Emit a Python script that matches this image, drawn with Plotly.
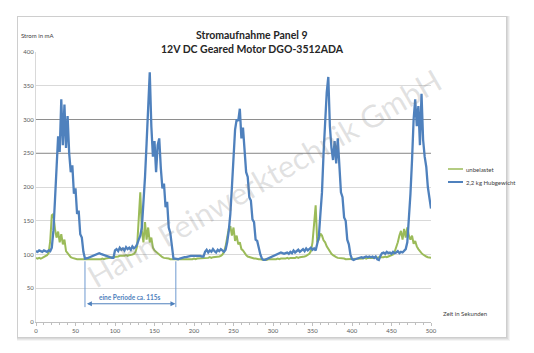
import plotly.graph_objects as go

# Zeit in Sekunden (Abtastung alle 2 s)
zeit = list(range(0, 501, 2))

# Stromaufnahme unbelastet (mA)
unbelastet = [
    95, 94, 95, 94, 95, 96, 97, 99, 102,
    120, 158, 160, 138, 125, 134, 118, 130, 115, 122, 105, 102, 98, 96,
    95, 94, 94, 93, 93, 93, 92, 92, 92, 93, 92, 93, 92, 92, 93, 93, 92, 93, 93, 94, 93, 94, 94, 95, 95, 96, 96,
    96, 97, 97, 98, 98, 97, 98, 99, 98, 99, 99, 100, 101, 104,
    112, 150, 192, 135, 118, 148, 122, 140, 118, 125, 110, 106, 104, 101, 99, 97, 96,
    95, 95, 94, 94, 93, 93, 93, 92, 92, 93, 92, 92, 92, 93, 93, 92, 93, 93, 93, 94,
    93, 94, 94, 94, 95, 95, 94, 95, 95, 96, 95, 96, 96, 97, 96, 97, 98, 100, 104,
    112, 125, 138, 142, 128, 140, 120, 128, 115, 118, 108, 106, 102, 99, 97, 96,
    95, 95, 94, 94, 93, 93, 93, 92, 92, 93, 92, 93, 93, 93, 92, 93, 93, 94, 93, 94,
    94, 93, 94, 95, 94, 95, 95, 94, 95, 96, 95, 96, 96, 97, 97, 98, 99, 101,
    105, 118, 145, 173, 118, 122, 131, 128, 121, 118, 112, 108, 104, 101, 99, 97, 96,
    95, 95, 94, 94, 94, 93, 93, 93, 93, 94, 93, 93, 94, 94, 93, 94, 94, 95, 94, 95,
    95, 94, 95, 95, 96, 95, 96, 96, 95, 96, 97, 96, 97, 98, 98, 100, 104, 110,
    118, 128, 135, 122, 138, 125, 140, 128, 122, 128, 116, 120, 112, 108, 104, 102, 100, 98, 97, 96,
    96, 95,
]

# Stromaufnahme mit 2,2 kg Hubgewicht (mA)
hubgewicht = [
    105, 104, 106, 105, 104, 106, 105, 104, 106, 105,
    110, 135, 180, 238, 275, 252, 330, 262, 322, 258, 305, 250, 222, 232, 190, 198, 160, 165, 130, 125, 104, 94,
    94, 95, 96, 97, 98, 99, 100, 101, 102, 101, 100, 100, 99, 98, 97, 96, 95, 95,
    106, 108, 105, 110, 107, 109, 106, 111, 108, 110, 107, 112, 109, 111,
    115, 122, 128, 140, 175, 215, 265, 320, 370,
    290, 245, 268, 222, 262, 272, 228, 198, 205, 170, 178, 140, 132, 108, 94,
    94, 93, 93, 94, 95, 95, 96, 96, 97, 97, 98, 98, 98, 99, 99, 98, 98, 97, 97,
    104, 107, 103, 106, 104, 108, 105, 103, 107, 105, 108, 106, 104, 107,
    118, 135, 160, 200, 245, 285, 300, 298, 316, 272, 288, 250, 222, 215, 185, 180, 152, 148, 122, 120, 108, 100, 94, 92, 92,
    93, 95, 96, 97, 98, 99, 100, 101, 102, 103, 102, 101, 102, 103, 101, 104, 102, 106, 103, 105,
    107, 104, 106, 108, 105, 109, 106, 108, 110, 107, 109, 106,
    115, 126, 160, 192, 250, 300, 340, 363, 290, 258, 240, 268, 235, 272, 222, 192, 185, 155, 150, 122, 115, 100, 93, 92,
    93, 94, 95, 95, 96, 95, 96, 97, 96, 97, 96, 97, 95, 97, 93, 92, 98, 102, 103, 101,
    104, 102, 103, 101, 104, 102, 103, 105, 102, 104, 103, 105,
    108, 118, 150, 190, 240, 300, 330, 290, 320, 262, 338, 270, 245, 230, 200, 185, 168,
]

namen = ["unbelastet", "2,2 kg Hubgewicht"]
farben = ["#9BBB59", "#4F81BD"]
x_ticks = list(range(0, 501, 50))
y_ticks = list(range(0, 401, 50))
periode_start, periode_ende = 62, 177
periode_text = "eine Periode ca. 115s"

FONT = "Lato, Calibri, 'Open Sans', sans-serif"

fig = go.Figure()
fig.add_trace(go.Scatter(x=zeit, y=unbelastet, mode="lines", name=namen[0],
                         line=dict(color=farben[0], width=2), showlegend=False))
fig.add_trace(go.Scatter(x=zeit, y=hubgewicht, mode="lines", name=namen[1],
                         line=dict(color=farben[1], width=2.3), showlegend=False))

W, H = 534, 353
L, R, T, B = 36, 103, 52, 31
pw, ph = W - L - R, H - T - B


def px(x):
    return (x - L) / pw


def py(y):
    return (H - B - y) / ph


shapes = []
# card shadow + card
for off, op in [(4, 0.04), (3, 0.05), (2, 0.06), (1, 0.05)]:
    shapes.append(dict(type="rect", xref="paper", yref="paper",
                       x0=px(18 - 1), x1=px(506 + off), y0=py(337 + off), y1=py(17 - 1),
                       fillcolor=f"rgba(0,0,0,{op})", line=dict(width=0), layer="below"))
shapes.append(dict(type="rect", xref="paper", yref="paper",
                   x0=px(18), x1=px(506), y0=py(337), y1=py(17),
                   fillcolor="white", line=dict(width=0), layer="below"))
# darker grid lines
for gy in (250, 300):
    shapes.append(dict(type="line", xref="x", yref="y", x0=0, x1=500, y0=gy, y1=gy,
                       line=dict(color="#8E8E8E", width=1), layer="between"))
# period markers
for xv in (periode_start, periode_ende):
    shapes.append(dict(type="line", xref="x", yref="y", x0=xv, x1=xv, y0=22, y1=90,
                       line=dict(color="#6F9AD0", width=1), layer="above"))
# legend lines
for i, yy in enumerate((169, 182)):
    shapes.append(dict(type="line", xref="paper", yref="paper", x0=px(448), x1=px(463),
                       y0=py(yy), y1=py(yy), line=dict(color=farben[i], width=2 if i else 1.5)))

ann = []
ann.append(dict(text="<b>Stromaufnahme Panel 9</b>", xref="paper", yref="paper",
                x=px(252), y=py(27), showarrow=False, font=dict(size=10.5, color="#262626", family=FONT)))
ann.append(dict(text="<b>12V DC Geared Motor DGO-3512ADA</b>", xref="paper", yref="paper",
                x=px(252), y=py(41), showarrow=False, font=dict(size=10.5, color="#262626", family=FONT)))
ann.append(dict(text="Strom in mA", xref="paper", yref="paper", x=px(19), y=py(30),
                xanchor="left", showarrow=False, font=dict(size=6, color="#404040", family=FONT)))
ann.append(dict(text="Zeit in Sekunden", xref="paper", yref="paper", x=px(441), y=py(319),
                xanchor="left", showarrow=False, font=dict(size=6, color="#404040", family=FONT)))
for i, yy in enumerate((169, 182)):
    ann.append(dict(text=namen[i], xref="paper", yref="paper", x=px(464), y=py(yy),
                    xanchor="left", showarrow=False, font=dict(size=6, color="#404040", family=FONT)))
ann.append(dict(text="", xref="x", yref="y", x=periode_ende - 0.5, y=27, ax=periode_start + 0.5, ay=27,
                axref="x", ayref="y", showarrow=True, arrowhead=2, arrowside="end+start",
                arrowsize=1, arrowwidth=1, arrowcolor="#4F81BD"))
ann.append(dict(text=f"<b>{periode_text}</b>", xref="x", yref="y", x=119, y=37, showarrow=False,
                font=dict(size=6.5, color="#4F81BD", family=FONT)))
ann.append(dict(text="Hahn Feinwerktechnik GmbH", xref="paper", yref="paper", x=px(264), y=py(178),
                showarrow=False, textangle=-30,
                font=dict(size=31, color="rgba(120,120,120,0.22)", family=FONT)))

fig.update_layout(
    width=W, height=H, margin=dict(l=L, r=R, t=T, b=B),
    paper_bgcolor="white", plot_bgcolor="white",
    showlegend=False, shapes=shapes, annotations=ann,
    font=dict(family=FONT),
    xaxis=dict(range=[0, 500], tickvals=x_ticks, showgrid=False, zeroline=False,
               showline=True, linecolor="#BFBFBF", linewidth=1,
               ticks="outside", ticklen=3, tickcolor="#BFBFBF",
               minor=dict(dtick=10, ticks="outside", ticklen=2, tickcolor="#BFBFBF"),
               tickfont=dict(size=6, color="#595959")),
    yaxis=dict(range=[0, 400], tickvals=y_ticks, showgrid=True, gridcolor="#D9D9D9",
               zeroline=False, showline=True, linecolor="#D9D9D9", ticks="",
               tickfont=dict(size=6, color="#595959")),
)

fig.write_html("out.html")
